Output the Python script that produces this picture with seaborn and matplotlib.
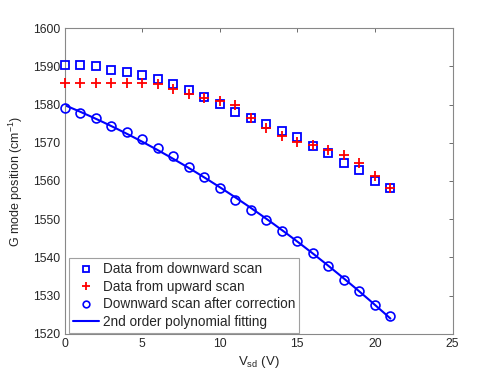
import numpy as np
import pandas as pd
import matplotlib
matplotlib.use("Agg")
import matplotlib.pyplot as plt
import seaborn as sns

# gate voltage steps
v_sd = np.arange(0, 22)

# G mode position, downward scan (squares)
down_scan = [1590.4, 1590.4, 1590.1, 1589.1, 1588.5, 1587.7, 1586.7, 1585.3,
             1583.7, 1581.9, 1580.1, 1578.1, 1576.5, 1574.9, 1573.2, 1571.4,
             1569.2, 1567.2, 1564.6, 1562.8, 1560.0, 1558.1]
# upward scan (plus)
up_scan = [1585.6, 1585.6, 1585.6, 1585.6, 1585.6, 1585.6, 1585.4, 1584.1,
           1582.8, 1581.8, 1580.9, 1580.0, 1576.5, 1573.9, 1571.8, 1570.1,
           1569.4, 1568.1, 1566.8, 1564.6, 1561.3, 1558.2]
# downward scan after correction (circles)
corrected = [1579.0, 1577.8, 1576.5, 1574.5, 1572.9, 1570.9, 1568.6, 1566.4,
             1563.7, 1560.9, 1558.2, 1555.0, 1552.4, 1549.8, 1546.9, 1544.2,
             1541.1, 1537.8, 1534.1, 1531.3, 1527.4, 1524.6]

df = pd.DataFrame({"v": v_sd, "down": down_scan, "up": up_scan, "corr": corrected})

# 2nd order fit of the corrected data
coef = np.polyfit(df.v, df["corr"], 2)
fit_x = np.linspace(0, 21, 200)
fit_df = pd.DataFrame({"v": fit_x, "fit": np.polyval(coef, fit_x)})

sns.set_style("white")
plt.rcParams["font.family"] = ["Liberation Sans", "DejaVu Sans"]
plt.rcParams["xtick.direction"] = "in"
plt.rcParams["ytick.direction"] = "in"

fig = plt.figure(figsize=(5, 3.75), dpi=100)
ax = fig.add_axes([0.129, 0.110, 0.776, 0.815])

blue = "#0000ff"
red = "#ff0000"

ax.plot(df.v, df.down, ls="none", marker="s", ms=5.6, mfc="none", mec=blue,
        mew=1.3, label="Data from downward scan", clip_on=False, zorder=3)
ax.plot(df.v, df.up, ls="none", marker="+", ms=7, color=red, mew=1.3,
        label="Data from upward scan", clip_on=False, zorder=4)
ax.plot(df.v, df["corr"], ls="none", marker="o", ms=6.4, mfc="none", mec=blue,
        mew=1.2, label="Downward scan after correction", clip_on=False, zorder=3)
sns.lineplot(data=fit_df, x="v", y="fit", ax=ax, color=blue, lw=1.5,
             label="2nd order polynomial fitting")

ax.set_xlim(0, 25)
ax.set_ylim(1520, 1600)
ax.set_xticks([0, 5, 10, 15, 20, 25])
ax.set_yticks(np.arange(1520, 1601, 10))
ax.tick_params(labelsize=8.7, top=True, right=True, length=3, width=0.6,
               color="#555555", pad=3)
for s in ax.spines.values():
    s.set_color("#888888")
    s.set_linewidth(0.8)

ax.set_xlabel("V$_{\\mathregular{sd}}$ (V)", fontsize=9.5, labelpad=3)
ax.set_ylabel("G mode position (cm$^{\\mathregular{-1}}$)", fontsize=9, labelpad=6)

leg = ax.legend(loc="lower left", fontsize=9.85, frameon=True, fancybox=False,
                bbox_to_anchor=(0.012, 0.003), borderaxespad=0,
                handlelength=1.9, labelspacing=0.25, markerscale=0.75,
                borderpad=0.3, handletextpad=0.25)
leg.get_frame().set_edgecolor("#888888")
leg.get_frame().set_linewidth(0.8)
leg.set_zorder(5)

fig.savefig("out.png", dpi=100)
